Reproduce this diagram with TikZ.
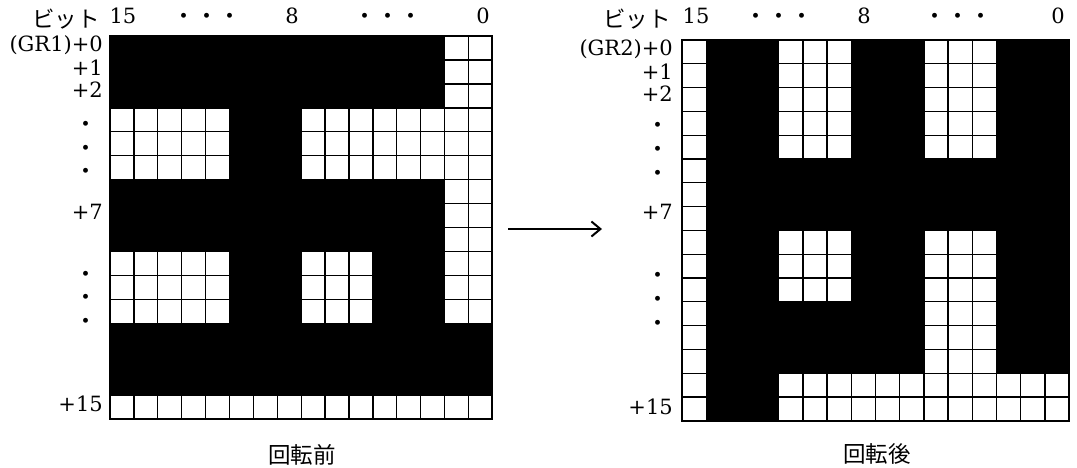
\documentclass[tikz,border=0pt]{standalone}
\usepackage{fontspec}
\newfontfamily\jp{Noto Sans CJK JP}
\newfontfamily\numfont{DejaVu Serif}
\usetikzlibrary{arrows.meta}
\tikzset{
  gridline/.style={line width=1.3pt, black},
  gridborder/.style={line width=2pt, black},
  blk/.style={fill=black},
  num/.style={font=\numfont\fontsize{21}{23}\selectfont, inner sep=0pt, text height=0.73em, text depth=0pt},
  rowlab/.style={num, anchor=east},
  jdots/.style={font=\jp\fontsize{23}{25}\selectfont, inner sep=0pt},
  jlab/.style={font=\jp\fontsize{22.5}{24}\selectfont, inner sep=0pt},
  arr/.style={line width=2pt, -{Straight Barb[length=9pt,width=15pt,line width=2pt]}}
}
\begin{document}
\begin{tikzpicture}[x=1pt,y=-1pt]
\useasboundingbox (0,0) rectangle (1077,467);

% ---------- left grid ----------
\begin{scope}[shift={(110,36)}, x=23.9pt, y=-23.95pt]
  \foreach \i in {0,...,16} {
    \draw[gridline] (\i,0) -- (\i,16);
    \draw[gridline] (0,\i) -- (16,\i);
  }
  \fill[blk] (0,0) rectangle (14,3);
  \fill[blk] (5,3) rectangle (8,6);
  \fill[blk] (0,6) rectangle (14,9);
  \fill[blk] (5,9) rectangle (8,12);
  \fill[blk] (11,9) rectangle (14,12);
  \fill[blk] (0,12) rectangle (16,15);
  \draw[gridborder] (0,0) rectangle (16,16);
\end{scope}

% ---------- right grid ----------
\begin{scope}[shift={(682,40)}, x=24.19pt, y=-23.8pt]
  \foreach \i in {0,...,16} {
    \draw[gridline] (\i,0) -- (\i,16);
    \draw[gridline] (0,\i) -- (16,\i);
  }
  \fill[blk] (1,0) rectangle (4,16);
  \fill[blk] (7,0) rectangle (10,5);
  \fill[blk] (13,0) rectangle (16,5);
  \fill[blk] (4,5) rectangle (16,8);
  \fill[blk] (7,8) rectangle (10,11);
  \fill[blk] (13,8) rectangle (16,11);
  \fill[blk] (4,11) rectangle (10,14);
  \fill[blk] (13,11) rectangle (16,14);
  \draw[gridborder] (0,0) rectangle (16,16);
\end{scope}

% ---------- left labels ----------
\node[jlab] (lbit) at (66,19) {ビット};
\node[num] (l15) at (123,20) {15};
\node[jdots] (ldotsA) at (207,19) {・・・};
\node[num] (l8) at (292,20) {8};
\node[jdots] (ldotsB) at (388,19) {・・・};
\node[num] (l0) at (483,20) {0};

\node[rowlab] (lr0) at (103,48) {(GR1)+0};
\node[rowlab] (lr1) at (103,72) {+1};
\node[rowlab] (lr2) at (103,94) {+2};
\node[jdots] (lv1) at (86,127) {・};
\node[jdots] (lv2) at (86,151) {・};
\node[jdots] (lv3) at (86,174) {・};
\node[rowlab] (lr7) at (103,216) {+7};
\node[jdots] (lv4) at (86,277) {・};
\node[jdots] (lv5) at (86,300) {・};
\node[jdots] (lv6) at (86,324) {・};
\node[rowlab] (lr15) at (103,408) {+15};

% ---------- right labels ----------
\node[jlab] (rbit) at (637,19) {ビット};
\node[num] (r15) at (696,20) {15};
\node[jdots] (rdotsA) at (779,19) {・・・};
\node[num] (r8) at (864,20) {8};
\node[jdots] (rdotsB) at (958,19) {・・・};
\node[num] (r0) at (1058,20) {0};

\node[rowlab] (rr0) at (673,52) {(GR2)+0};
\node[rowlab] (rr1) at (673,76) {+1};
\node[rowlab] (rr2) at (673,98) {+2};
\node[jdots] (rv1) at (658,128) {・};
\node[jdots] (rv2) at (658,152) {・};
\node[jdots] (rv3) at (658,176) {・};
\node[rowlab] (rr7) at (673,216) {+7};
\node[jdots] (rv4) at (658,278) {・};
\node[jdots] (rv5) at (658,302) {・};
\node[jdots] (rv6) at (658,326) {・};
\node[rowlab] (rr15) at (673,411) {+15};

% ---------- arrow ----------
\coordinate (arrS) at (508,229);
\coordinate (arrE) at (602,229);
\draw[arr] (arrS) -- (arrE);

% ---------- captions ----------
\node[jlab] (capL) at (302,455) {回転前};
\node[jlab] (capR) at (877,454) {回転後};
\end{tikzpicture}
\end{document}
